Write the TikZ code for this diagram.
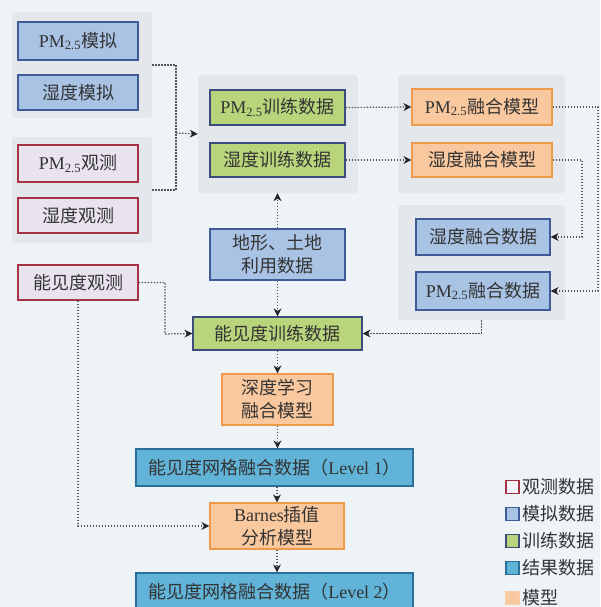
\documentclass[tikz,border=0pt]{standalone}
\usepackage{fontspec}
\setmainfont{Liberation Serif}
\newfontfamily\cjk{Noto Sans CJK SC}
\usetikzlibrary{arrows.meta,calc}
\definecolor{bgc}{HTML}{EEF3F8}
\definecolor{panelc}{HTML}{E4E8EC}
\definecolor{bluef}{HTML}{A9C3E4}
\definecolor{blued}{HTML}{3D5C95}
\definecolor{obsf}{HTML}{E8E3EF}
\definecolor{obsd}{HTML}{A63344}
\definecolor{greenf}{HTML}{B8D57C}
\definecolor{greend}{HTML}{3C4C7C}
\definecolor{orangef}{HTML}{F9C89E}
\definecolor{oranged}{HTML}{F0994A}
\definecolor{cyanf}{HTML}{62B3D8}
\definecolor{cyand}{HTML}{2D6F98}
\definecolor{txt}{HTML}{333333}
\definecolor{linec}{HTML}{555555}
\newcommand\pmt{PM\textsubscript{2.5}}
\tikzset{
  box/.style={draw, line width=1.2pt, text=txt, inner sep=0pt, align=center,
    font=\cjk\fontsize{18}{23}\selectfont},
  simbox/.style={box, fill=bluef, draw=blued},
  obsbox/.style={box, fill=obsf, draw=obsd},
  trainbox/.style={box, fill=greenf, draw=greend},
  modbox/.style={box, fill=orangef, draw=oranged},
  resbox/.style={box, fill=cyanf, draw=cyand},
  panel/.style={fill=panelc, draw=none, rounded corners=3pt},
  conn/.style={draw=linec, line width=1.2pt, dash pattern=on 1.5pt off 1.5pt},
  arr/.style={conn, -{Stealth[length=8pt,width=8pt,inset=2.5pt,color=black!85,line width=0pt]}},
  legtxt/.style={text=txt, anchor=west, inner sep=0pt, font=\cjk\fontsize{18}{20}\selectfont},
  legsq/.style={line width=1.2pt, minimum size=13pt, inner sep=0pt}
}
% box given by corners (x1,y1) (x2,y2) in pixel coordinates
\newcommand\pbox[6]{\node[#1, minimum width={#4-#2}, minimum height={#5-#3}] (#6) at ({(#2+#4)/2},{(#3+#5)/2})}
\begin{document}
\begin{tikzpicture}[x=1pt,y=-1pt]
\clip (0,0) rectangle (600,607);
\fill[bgc] (0,0) rectangle (600,607);
\useasboundingbox (0,0) rectangle (600,607);

% panels
\pbox{panel}{12}{12}{152}{118}{gsim} {};
\pbox{panel}{12}{137}{152}{243}{gobs} {};
\pbox{panel}{198}{75}{358}{193}{gtrain} {};
\pbox{panel}{398}{75}{565}{193}{gmodel} {};
\pbox{panel}{398}{205}{565}{320}{gdata} {};

% left column
\pbox{simbox}{18}{22}{138}{60}{pmsim} {{\rmfamily\pmt}模拟};
\pbox{simbox}{18}{75}{138}{110}{hsim} {湿度模拟};
\pbox{obsbox}{18}{145}{138}{182}{pmobs} {{\rmfamily\pmt}观测};
\pbox{obsbox}{18}{198}{138}{233}{hobs} {湿度观测};
\pbox{obsbox}{18}{265}{138}{300}{vobs} {能见度观测};

% training
\pbox{trainbox}{210}{90}{345}{125}{pmtrain} {{\rmfamily\pmt}训练数据};
\pbox{trainbox}{210}{143}{345}{177}{htrain} {湿度训练数据};
\pbox{simbox}{210}{229}{345}{280}{terrain} {地形、土地\\利用数据};

% models and fused data
\pbox{modbox}{412}{89}{552}{125}{pmmod} {{\rmfamily\pmt}融合模型};
\pbox{modbox}{412}{143}{552}{177}{hmod} {湿度融合模型};
\pbox{simbox}{416}{219}{550}{255}{hdata} {湿度融合数据};
\pbox{simbox}{416}{272}{550}{310}{pmdata} {{\rmfamily\pmt}融合数据};

% main chain
\pbox{trainbox}{193}{317}{362}{350}{vtrain} {能见度训练数据};
\pbox{modbox}{222}{374}{333}{425}{deep} {深度学习\\融合模型};
\pbox{resbox}{136}{449}{413}{486}{lev1} {能见度网格融合数据（{\rmfamily Level 1}）};
\pbox{modbox}{210}{503}{344}{549}{barnes} {{\rmfamily Barnes}插值\\分析模型};
\pbox{resbox}{136}{573}{413}{611}{lev2} {能见度网格融合数据（{\rmfamily Level 2}）};

% connectors
\coordinate (bx) at (176,133);
\draw[conn] (gsim.east) -| (bx);
\draw[conn] (gobs.east) -| (bx);
\draw[arr] (bx) -- (gtrain.west);
\draw[arr] (pmtrain.east) -- (pmmod.west);
\draw[arr] (htrain.east) -- (hmod.west);
\coordinate (r1) at (598,107);
\coordinate (r2) at (582,160);
\draw[arr] (pmmod.east) -- (r1) |- (pmdata.east);
\draw[arr] (hmod.east) -- (r2) |- (hdata.east);
\draw[arr] (terrain.north) -- (terrain.north |- gtrain.south);
\draw[arr] (terrain.south) -- (terrain.south |- vtrain.north);
\coordinate (c1) at (165,334);
\draw[arr] (vobs.east) -| (c1) -- (vtrain.west);
\draw[arr] (gdata.south) |- (vtrain.east);
\draw[arr] (vtrain.south) -- (vtrain.south |- deep.north);
\draw[arr] (deep.south) -- (deep.south |- lev1.north);
\draw[arr] (barnes.north |- lev1.south) -- (barnes.north);
\draw[arr] (barnes.south) -- (barnes.south |- lev2.north);
\draw[arr] (vobs.south) |- (barnes.west);

% legend
\node[legsq, draw=obsd, fill=obsf!40] (l1) at (512.5,487) {};
\node[legtxt] (t1) at (522,487) {观测数据};
\node[legsq, draw=blued, fill=bluef] (l2) at (512.5,514) {};
\node[legtxt] (t2) at (522,514) {模拟数据};
\node[legsq, draw=greend, fill=greenf] (l3) at (512.5,541) {};
\node[legtxt] (t3) at (522,541) {训练数据};
\node[legsq, draw=cyand, fill=cyanf] (l4) at (512.5,568) {};
\node[legtxt] (t4) at (522,568) {结果数据};
\node[legsq, draw=oranged!50, fill=orangef] (l5) at (512.5,598) {};
\node[legtxt] (t5) at (522,598) {模型};
\end{tikzpicture}
\end{document}
